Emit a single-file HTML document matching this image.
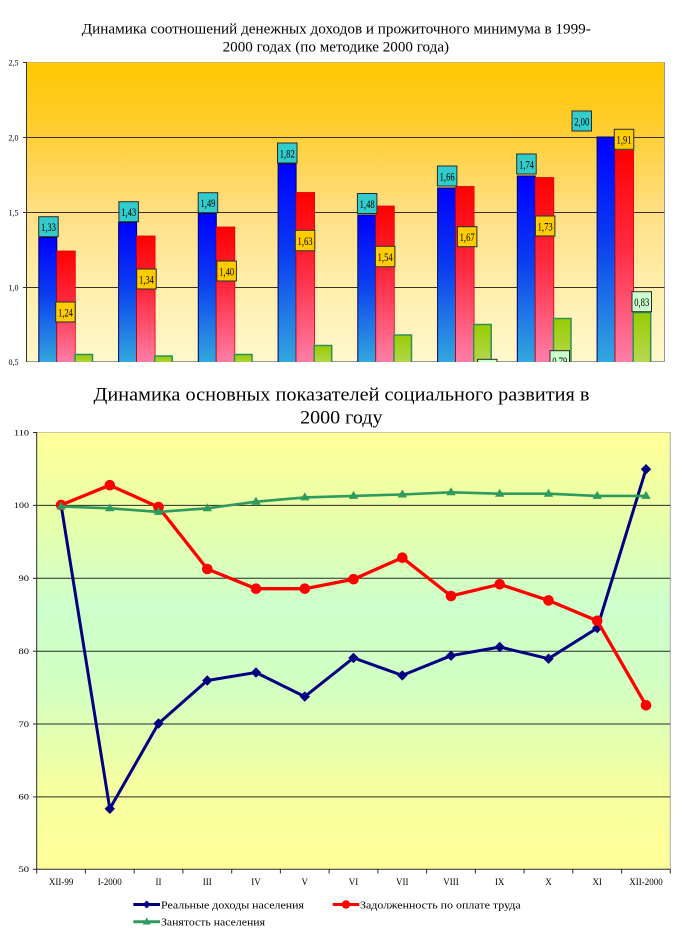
<!DOCTYPE html>
<html>
<head>
<meta charset="utf-8">
<style>
html,body{margin:0;padding:0;background:#fff;}
svg{display:block;}
text{font-family:"Liberation Serif","DejaVu Serif",serif;fill:#000;}
</style>
</head>
<body>
<svg width="684" height="938" viewBox="0 0 684 938" xmlns="http://www.w3.org/2000/svg">
<defs>
  <linearGradient id="bgTop" x1="0" y1="0" x2="0" y2="1">
    <stop offset="0" stop-color="#ffc800"/>
    <stop offset="0.2" stop-color="#ffcc2a"/>
    <stop offset="0.5" stop-color="#ffdf85"/>
    <stop offset="0.75" stop-color="#ffeeac"/>
    <stop offset="1" stop-color="#fff8cc"/>
  </linearGradient>
  <linearGradient id="bgBot" x1="0" y1="0" x2="0" y2="1">
    <stop offset="0" stop-color="#ffff99"/>
    <stop offset="0.2" stop-color="#e8ffa8"/>
    <stop offset="0.4" stop-color="#ccffcc"/>
    <stop offset="0.6" stop-color="#d4ffc0"/>
    <stop offset="0.8" stop-color="#f4ffa0"/>
    <stop offset="1" stop-color="#ffff99"/>
  </linearGradient>
  <linearGradient id="gBlue" x1="0" y1="0" x2="0" y2="1">
    <stop offset="0" stop-color="#0000ff"/>
    <stop offset="0.45" stop-color="#0a3cf0"/>
    <stop offset="1" stop-color="#33aadd"/>
  </linearGradient>
  <linearGradient id="gRed" x1="0" y1="0" x2="0" y2="1">
    <stop offset="0" stop-color="#ff0000"/>
    <stop offset="0.45" stop-color="#ff2a40"/>
    <stop offset="1" stop-color="#ff80aa"/>
  </linearGradient>
  <linearGradient id="gGreen" x1="0" y1="0" x2="0" y2="1">
    <stop offset="0" stop-color="#99cc00"/>
    <stop offset="1" stop-color="#b8d85a"/>
  </linearGradient>
  <clipPath id="clipTop"><rect x="0" y="60" width="684" height="302"/></clipPath>
</defs>

<!-- ============ TOP CHART ============ -->
<text x="81.8" y="33.3" font-size="14.5" textLength="509" lengthAdjust="spacingAndGlyphs">Динамика соотношений денежных доходов и прожиточного минимума в 1999-</text>
<text x="222.6" y="51.7" font-size="14.5" textLength="226.5" lengthAdjust="spacingAndGlyphs">2000 годах (по методике 2000 года)</text>

<rect x="26" y="62" width="638.5" height="300" fill="url(#bgTop)"/>
<line x1="26" y1="62.5" x2="664.5" y2="62.5" stroke="#aaa" stroke-width="1" stroke-dasharray="1,1"/>
<line x1="664.5" y1="62" x2="664.5" y2="362" stroke="#999" stroke-width="1"/>
<line x1="26" y1="361.5" x2="664.5" y2="361.5" stroke="#999" stroke-width="1"/>
<g stroke="#3a3020" stroke-width="1">
  <line x1="26" y1="137.5" x2="664.5" y2="137.5"/>
  <line x1="26" y1="212.5" x2="664.5" y2="212.5"/>
  <line x1="26" y1="287.5" x2="664.5" y2="287.5"/>
  <line x1="26.5" y1="62" x2="26.5" y2="362"/>
  <line x1="23" y1="62.5" x2="26" y2="62.5"/>
  <line x1="23" y1="137.5" x2="26" y2="137.5"/>
  <line x1="23" y1="212.5" x2="26" y2="212.5"/>
  <line x1="23" y1="287.5" x2="26" y2="287.5"/>
</g>
<g font-size="8" text-anchor="end">
  <text x="18.5" y="65.5" textLength="10" lengthAdjust="spacingAndGlyphs">2,5</text>
  <text x="18.5" y="140.5" textLength="10" lengthAdjust="spacingAndGlyphs">2,0</text>
  <text x="18.5" y="215.5" textLength="10" lengthAdjust="spacingAndGlyphs">1,5</text>
  <text x="18.5" y="290.5" textLength="10" lengthAdjust="spacingAndGlyphs">1,0</text>
  <text x="18.5" y="365" textLength="10" lengthAdjust="spacingAndGlyphs">0,5</text>
</g>

<g clip-path="url(#clipTop)">
  <g fill="url(#gBlue)" stroke="#00006a" stroke-width="1">
    <rect x="38.8" y="237.5" width="18" height="126"/>
    <rect x="118.6" y="222.5" width="18" height="141"/>
    <rect x="198.3" y="213.5" width="18" height="150"/>
    <rect x="278.1" y="164" width="18" height="200"/>
    <rect x="357.8" y="215" width="18" height="149"/>
    <rect x="437.6" y="188" width="18" height="176"/>
    <rect x="517.3" y="176" width="18" height="188"/>
    <rect x="597.1" y="137" width="18" height="227"/>
  </g>
  <g fill="url(#gRed)" stroke="#e00000" stroke-width="0.8">
    <rect x="56.8" y="251" width="18.5" height="113"/>
    <rect x="136.6" y="236" width="18.5" height="128"/>
    <rect x="216.3" y="227" width="18.5" height="137"/>
    <rect x="296.1" y="192.5" width="18.5" height="172"/>
    <rect x="375.8" y="206" width="18.5" height="158"/>
    <rect x="455.6" y="186.5" width="18.5" height="178"/>
    <rect x="535.3" y="177.5" width="18.5" height="187"/>
    <rect x="615.1" y="150.5" width="18.5" height="214"/>
  </g>
  <g fill="url(#gGreen)" stroke="#2f8f5a" stroke-width="1.5">
    <rect x="75" y="354.5" width="17.5" height="12"/>
    <rect x="154.7" y="356" width="17.5" height="12"/>
    <rect x="234.5" y="354.5" width="17.5" height="12"/>
    <rect x="314.2" y="345.5" width="17.5" height="22"/>
    <rect x="394" y="335" width="17.5" height="32"/>
    <rect x="473.7" y="324.5" width="17.5" height="42"/>
    <rect x="553.5" y="318.5" width="17.5" height="48"/>
    <rect x="633.2" y="312.5" width="17.5" height="54"/>
  </g>

  <g stroke="#2a2a2a" stroke-width="1" fill="#33cccc">
    <rect x="38.7" y="216.7" width="19.5" height="20"/>
    <rect x="118.9" y="201.7" width="19.5" height="20"/>
    <rect x="198.2" y="192.7" width="19.5" height="20"/>
    <rect x="277.5" y="143" width="19.5" height="20"/>
    <rect x="357.4" y="193.5" width="19.5" height="20"/>
    <rect x="437.4" y="166" width="19.5" height="20"/>
    <rect x="516.7" y="154" width="19.5" height="20"/>
    <rect x="572" y="111" width="19.5" height="20"/>
  </g>
  <g stroke="#2a2a2a" stroke-width="1" fill="#ffcc00">
    <rect x="55.7" y="302" width="19.5" height="20"/>
    <rect x="136.7" y="269" width="19.5" height="20"/>
    <rect x="216.9" y="261" width="19.5" height="20"/>
    <rect x="295.3" y="230.3" width="19.5" height="20.5"/>
    <rect x="375.4" y="246.3" width="19.5" height="20.5"/>
    <rect x="457.4" y="226.7" width="19.5" height="20"/>
    <rect x="535.4" y="216" width="19.5" height="20"/>
    <rect x="614.3" y="129.3" width="19.5" height="20"/>
  </g>
  <g stroke="#2a2a2a" stroke-width="1" fill="#ccffcc">
    <rect x="477.5" y="359.3" width="19.5" height="20"/>
    <rect x="550" y="350.7" width="19.5" height="20"/>
    <rect x="632" y="291.7" width="19.5" height="20"/>
  </g>
  <g font-size="12" text-anchor="middle">
    <text x="48.45" y="231" textLength="15" lengthAdjust="spacingAndGlyphs">1,33</text>
    <text x="128.65" y="216" textLength="15" lengthAdjust="spacingAndGlyphs">1,43</text>
    <text x="207.95" y="207" textLength="15" lengthAdjust="spacingAndGlyphs">1,49</text>
    <text x="287.25" y="157.3" textLength="15" lengthAdjust="spacingAndGlyphs">1,82</text>
    <text x="367.15" y="207.8" textLength="15" lengthAdjust="spacingAndGlyphs">1,48</text>
    <text x="447.15" y="180.3" textLength="15" lengthAdjust="spacingAndGlyphs">1,66</text>
    <text x="526.45" y="168.3" textLength="15" lengthAdjust="spacingAndGlyphs">1,74</text>
    <text x="581.75" y="125.3" textLength="15" lengthAdjust="spacingAndGlyphs">2,00</text>

    <text x="65.45" y="316.3" textLength="15" lengthAdjust="spacingAndGlyphs">1,24</text>
    <text x="146.45" y="283.3" textLength="15" lengthAdjust="spacingAndGlyphs">1,34</text>
    <text x="226.65" y="275.3" textLength="15" lengthAdjust="spacingAndGlyphs">1,40</text>
    <text x="305.05" y="244.8" textLength="15" lengthAdjust="spacingAndGlyphs">1,63</text>
    <text x="385.15" y="260.8" textLength="15" lengthAdjust="spacingAndGlyphs">1,54</text>
    <text x="467.15" y="241" textLength="15" lengthAdjust="spacingAndGlyphs">1,67</text>
    <text x="545.15" y="230.3" textLength="15" lengthAdjust="spacingAndGlyphs">1,73</text>
    <text x="624.05" y="143.6" textLength="15" lengthAdjust="spacingAndGlyphs">1,91</text>

    <text x="487.25" y="373.6" textLength="15" lengthAdjust="spacingAndGlyphs">0,75</text>
    <text x="559.75" y="365" textLength="15" lengthAdjust="spacingAndGlyphs">0,79</text>
    <text x="641.75" y="306" textLength="15" lengthAdjust="spacingAndGlyphs">0,83</text>
  </g>
</g>

<!-- ============ BOTTOM CHART ============ -->
<text x="93.5" y="400.7" font-size="19" textLength="496" lengthAdjust="spacingAndGlyphs">Динамика основных показателей социального развития в</text>
<text x="300.1" y="423.5" font-size="19" textLength="82.4" lengthAdjust="spacingAndGlyphs">2000 году</text>

<rect x="36.7" y="432" width="633.6" height="437.3" fill="url(#bgBot)"/>
<line x1="36.7" y1="432.5" x2="670.3" y2="432.5" stroke="#999" stroke-width="1" stroke-dasharray="1,1"/>
<line x1="670.3" y1="432" x2="670.3" y2="869.3" stroke="#aaa" stroke-width="1"/>
<g stroke="#2a2a2a" stroke-width="1">
  <line x1="36.7" y1="505.4" x2="670.3" y2="505.4"/>
  <line x1="36.7" y1="578.3" x2="670.3" y2="578.3"/>
  <line x1="36.7" y1="651.2" x2="670.3" y2="651.2"/>
  <line x1="36.7" y1="724" x2="670.3" y2="724"/>
  <line x1="36.7" y1="796.9" x2="670.3" y2="796.9"/>
  <line x1="36.7" y1="432" x2="36.7" y2="869.8"/>
  <line x1="36.7" y1="869.3" x2="670.3" y2="869.3"/>
</g>
<g stroke="#2a2a2a" stroke-width="1">
  <line x1="33" y1="432.5" x2="36.7" y2="432.5"/>
  <line x1="33" y1="505.4" x2="36.7" y2="505.4"/>
  <line x1="33" y1="578.3" x2="36.7" y2="578.3"/>
  <line x1="33" y1="651.2" x2="36.7" y2="651.2"/>
  <line x1="33" y1="724" x2="36.7" y2="724"/>
  <line x1="33" y1="796.9" x2="36.7" y2="796.9"/>
  <line x1="33" y1="869.3" x2="36.7" y2="869.3"/>
  <line x1="36.7" y1="869.3" x2="36.7" y2="873.5"/>
  <line x1="85.4" y1="869.3" x2="85.4" y2="873.5"/>
  <line x1="134.2" y1="869.3" x2="134.2" y2="873.5"/>
  <line x1="182.9" y1="869.3" x2="182.9" y2="873.5"/>
  <line x1="231.7" y1="869.3" x2="231.7" y2="873.5"/>
  <line x1="280.4" y1="869.3" x2="280.4" y2="873.5"/>
  <line x1="329.1" y1="869.3" x2="329.1" y2="873.5"/>
  <line x1="377.9" y1="869.3" x2="377.9" y2="873.5"/>
  <line x1="426.6" y1="869.3" x2="426.6" y2="873.5"/>
  <line x1="475.4" y1="869.3" x2="475.4" y2="873.5"/>
  <line x1="524.1" y1="869.3" x2="524.1" y2="873.5"/>
  <line x1="572.8" y1="869.3" x2="572.8" y2="873.5"/>
  <line x1="621.6" y1="869.3" x2="621.6" y2="873.5"/>
  <line x1="670.3" y1="869.3" x2="670.3" y2="873.5"/>
</g>
<g font-size="8" text-anchor="end">
  <text x="29" y="435.3" textLength="15" lengthAdjust="spacingAndGlyphs">110</text>
  <text x="29" y="508.2" textLength="15" lengthAdjust="spacingAndGlyphs">100</text>
  <text x="29" y="581.1" textLength="10.5" lengthAdjust="spacingAndGlyphs">90</text>
  <text x="29" y="654" textLength="10.5" lengthAdjust="spacingAndGlyphs">80</text>
  <text x="29" y="726.8" textLength="10.5" lengthAdjust="spacingAndGlyphs">70</text>
  <text x="29" y="799.7" textLength="10.5" lengthAdjust="spacingAndGlyphs">60</text>
  <text x="29" y="872.1" textLength="10.5" lengthAdjust="spacingAndGlyphs">50</text>
</g>
<g font-size="9" text-anchor="middle">
  <text x="61.1" y="885">XII-99</text>
  <text x="109.8" y="885">I-2000</text>
  <text x="158.5" y="885">II</text>
  <text x="207.3" y="885">III</text>
  <text x="256" y="885">IV</text>
  <text x="304.8" y="885">V</text>
  <text x="353.5" y="885">VI</text>
  <text x="402.3" y="885">VII</text>
  <text x="451" y="885">VIII</text>
  <text x="499.7" y="885">IX</text>
  <text x="548.5" y="885">X</text>
  <text x="597.2" y="885">XI</text>
  <text x="646" y="885">XII-2000</text>
</g>

<!-- blue series -->
<polyline fill="none" stroke="#000080" stroke-width="3" stroke-linejoin="round"
  points="61.1,505 109.8,808.8 158.5,723.5 207.3,680.5 256,672.5 304.8,696.6 353.5,657.9 402.3,675.4 451,655.7 499.7,647 548.5,658.7 597.2,628.1 646,469.2"/>
<g fill="#000080">
  <polygon points="61.1,499.8 66.3,505 61.1,510.2 55.9,505"/>
  <polygon points="109.8,803.6 115,808.8 109.8,814 104.6,808.8"/>
  <polygon points="158.5,718.3 163.7,723.5 158.5,728.7 153.3,723.5"/>
  <polygon points="207.3,675.3 212.5,680.5 207.3,685.7 202.1,680.5"/>
  <polygon points="256,667.3 261.2,672.5 256,677.7 250.8,672.5"/>
  <polygon points="304.8,691.4 310,696.6 304.8,701.8 299.6,696.6"/>
  <polygon points="353.5,652.7 358.7,657.9 353.5,663.1 348.3,657.9"/>
  <polygon points="402.3,670.2 407.5,675.4 402.3,680.6 397.1,675.4"/>
  <polygon points="451,650.5 456.2,655.7 451,660.9 445.8,655.7"/>
  <polygon points="499.7,641.8 504.9,647 499.7,652.2 494.5,647"/>
  <polygon points="548.5,653.5 553.7,658.7 548.5,663.9 543.3,658.7"/>
  <polygon points="597.2,622.9 602.4,628.1 597.2,633.3 592,628.1"/>
  <polygon points="646,464 651.2,469.2 646,474.4 640.8,469.2"/>
</g>

<!-- red series -->
<polyline fill="none" stroke="#ff0000" stroke-width="3.3" stroke-linejoin="round"
  points="61.1,505 109.8,485.2 158.5,507.1 207.3,569 256,588.7 304.8,588.7 353.5,579.2 402.3,557.7 451,596 499.7,584.3 548.5,600.4 597.2,620.8 646,705.3"/>
<g fill="#ff0000">
  <circle cx="61.1" cy="505" r="5.3"/>
  <circle cx="109.8" cy="485.2" r="5.3"/>
  <circle cx="158.5" cy="507.1" r="5.3"/>
  <circle cx="207.3" cy="569" r="5.3"/>
  <circle cx="256" cy="588.7" r="5.3"/>
  <circle cx="304.8" cy="588.7" r="5.3"/>
  <circle cx="353.5" cy="579.2" r="5.3"/>
  <circle cx="402.3" cy="557.7" r="5.3"/>
  <circle cx="451" cy="596" r="5.3"/>
  <circle cx="499.7" cy="584.3" r="5.3"/>
  <circle cx="548.5" cy="600.4" r="5.3"/>
  <circle cx="597.2" cy="620.8" r="5.3"/>
  <circle cx="646" cy="705.3" r="5.3"/>
</g>

<!-- green series -->
<polyline fill="none" stroke="#2e9a5e" stroke-width="2.6" stroke-linejoin="round"
  points="61.1,506.5 109.8,508.3 158.5,511.9 207.3,508.3 256,501.7 304.8,497.4 353.5,495.9 402.3,494.5 451,492.3 499.7,493.7 548.5,493.7 597.2,495.9 646,495.9"/>
<g fill="#2e9a5e">
  <polygon points="61.1,501.5 65.8,509.5 56.4,509.5"/>
  <polygon points="109.8,503.3 114.5,511.3 105.1,511.3"/>
  <polygon points="158.5,506.9 163.2,514.9 153.8,514.9"/>
  <polygon points="207.3,503.3 212,511.3 202.6,511.3"/>
  <polygon points="256,496.7 260.7,504.7 251.3,504.7"/>
  <polygon points="304.8,492.4 309.5,500.4 300.1,500.4"/>
  <polygon points="353.5,490.9 358.2,498.9 348.8,498.9"/>
  <polygon points="402.3,489.5 407,497.5 397.6,497.5"/>
  <polygon points="451,487.3 455.7,495.3 446.3,495.3"/>
  <polygon points="499.7,488.7 504.4,496.7 495,496.7"/>
  <polygon points="548.5,488.7 553.2,496.7 543.8,496.7"/>
  <polygon points="597.2,490.9 601.9,498.9 592.5,498.9"/>
  <polygon points="646,490.9 650.7,498.9 641.3,498.9"/>
</g>

<!-- legend -->
<line x1="133.3" y1="904.5" x2="160" y2="904.5" stroke="#000080" stroke-width="3"/>
<polygon points="146.7,900.5 150.7,904.5 146.7,908.5 142.7,904.5" fill="#000080"/>
<text x="161" y="908.5" font-size="10.5" textLength="143" lengthAdjust="spacingAndGlyphs">Реальные доходы населения</text>

<line x1="332.7" y1="904.5" x2="359.3" y2="904.5" stroke="#ff0000" stroke-width="3"/>
<circle cx="346" cy="904.5" r="4.2" fill="#ff0000"/>
<text x="360" y="908.5" font-size="10.5" textLength="160.7" lengthAdjust="spacingAndGlyphs">Задолженность по оплате труда</text>

<line x1="133.3" y1="921.7" x2="160" y2="921.7" stroke="#2e9a5e" stroke-width="3"/>
<polygon points="146.7,917.5 150.7,924.5 142.7,924.5" fill="#2e9a5e"/>
<text x="161" y="925.5" font-size="10.5" textLength="104" lengthAdjust="spacingAndGlyphs">Занятость населения</text>
</svg>
</body>
</html>
